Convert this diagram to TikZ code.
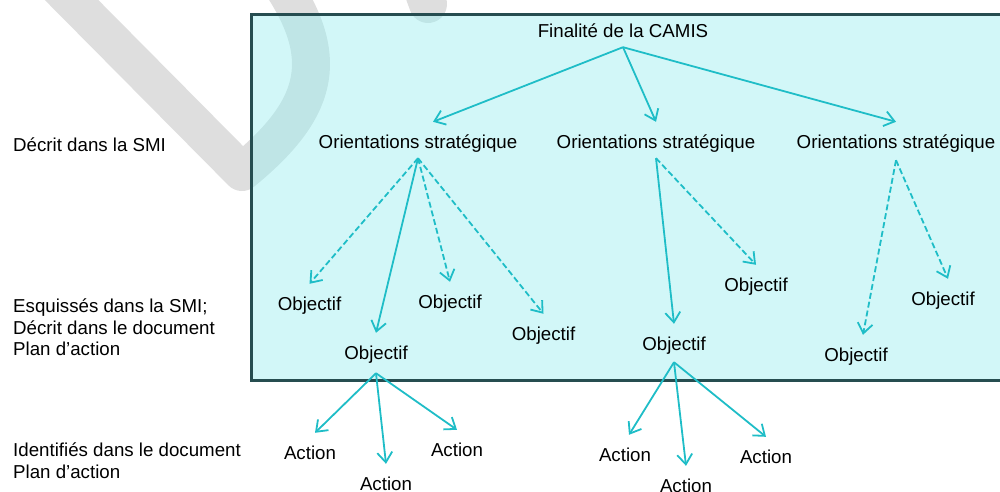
\documentclass[tikz,border=0pt]{standalone}
\usepackage{fontspec}
\setmainfont{Liberation Sans}
\usetikzlibrary{arrows.meta}
\definecolor{acol}{RGB}{31,189,199}
\definecolor{boxfill}{RGB}{155,238,240}
\definecolor{boxline}{RGB}{38,77,80}
\definecolor{wmgrey}{RGB}{222,222,222}
\tikzset{
  txt/.style={font=\fontsize{18.7pt}{21.5pt}\selectfont, text height=13.4pt, text depth=0pt, inner xsep=0pt, inner ysep=13.3pt},
  side/.style={font=\fontsize{18.7pt}{21.5pt}\selectfont, inner sep=0pt, anchor=base west},
  arr/.style={draw=acol, line width=1.8pt, -{Straight Barb[length=10pt,width=15pt,line width=1.8pt]}},
  darr/.style={arr, dash pattern=on 6pt off 3pt},
  wm/.style={draw=wmgrey, line width=38pt, line cap=round, line join=round},
  boxstyle/.style={fill=boxfill, fill opacity=0.45, draw=boxline, draw opacity=1, line width=3pt}
}
\begin{document}
\begin{tikzpicture}[x=1pt,y=-1pt]
\useasboundingbox (0,0) rectangle (1000,491);
% watermark
\draw[wm] (22,-50) -- (242,172) .. controls (318,110) and (330,60) .. (284,-12);
\draw[wm] (412,-40) -- (428,4);
% box
\draw[boxstyle] (251,14.5) rectangle (1012,380.5);
% nodes
\node[txt] (fin) at (623,31) {Finalité de la CAMIS};
\node[txt] (os1) at (418,142) {Orientations stratégique};
\node[txt] (os2) at (656,142) {Orientations stratégique};
\node[txt] (os3) at (896,142) {Orientations stratégique};
\node[txt] (o1) at (309.5,304) {Objectif};
\node[txt] (o2) at (376,353) {Objectif};
\node[txt] (o3) at (450,302) {Objectif};
\node[txt] (o4) at (543.5,334) {Objectif};
\node[txt] (o5) at (674,344) {Objectif};
\node[txt] (o6) at (756,285) {Objectif};
\node[txt] (o7) at (856,355) {Objectif};
\node[txt] (o8) at (943,299) {Objectif};
\node[txt] (a1) at (310,453) {Action};
\node[txt] (a2) at (386,484) {Action};
\node[txt] (a3) at (457,450) {Action};
\node[txt] (a4) at (625,455) {Action};
\node[txt] (a5) at (686,486) {Action};
\node[txt] (a6) at (766,457) {Action};
\node[side] (l1) at (13,151) {Décrit dans la SMI};
\node[side] (l2) at (13,312.7) {\begin{tabular}[t]{@{}l@{}}Esquissés dans la SMI;\\Décrit dans le document\\Plan d’action\end{tabular}};
\node[side] (l3) at (13,456.7) {\begin{tabular}[t]{@{}l@{}}Identifiés dans le document\\Plan d’action\end{tabular}};
% connectors
\draw[arr] ([yshift=4pt]fin.south) -- ([xshift=15pt]os1.north);
\draw[arr] ([yshift=4pt]fin.south) -- (os2.north);
\draw[arr] ([yshift=4pt]fin.south) -- (os3.north);
\draw[darr] ([yshift=4pt]os1.south) -- (o1.north);
\draw[arr] ([yshift=4pt]os1.south) -- (o2.north);
\draw[darr] ([yshift=4pt]os1.south) -- (o3.north);
\draw[darr] ([yshift=4pt]os1.south) -- (o4.north);
\draw[arr] ([yshift=4pt]os2.south) -- (o5.north);
\draw[darr] ([yshift=4pt]os2.south) -- (o6.north);
\draw[darr] ([yshift=2pt]os3.south) -- ([xshift=7pt]o7.north);
\draw[darr] ([yshift=2pt]os3.south) -- ([xshift=5pt]o8.north);
\draw[arr] (o2.south) -- ([xshift=5pt]a1.north);
\draw[arr] (o2.south) -- (a2.north);
\draw[arr] (o2.south) -- (a3.north);
\draw[arr] ([yshift=2pt]o5.south) -- ([xshift=4pt]a4.north);
\draw[arr] ([yshift=2pt]o5.south) -- (a5.north);
\draw[arr] ([yshift=2pt]o5.south) -- (a6.north);
\end{tikzpicture}
\end{document}
